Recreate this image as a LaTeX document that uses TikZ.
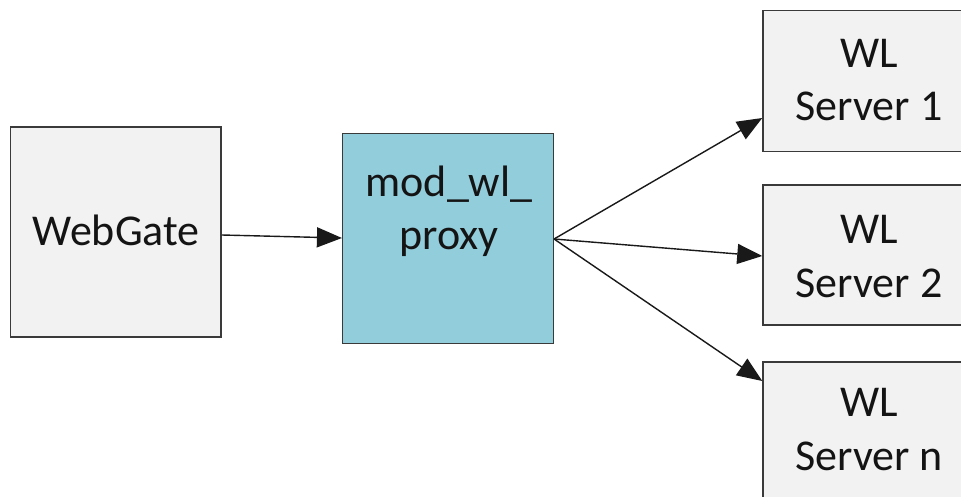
\documentclass[tikz,border=0pt]{standalone}
\usepackage{fontspec}
\setmainfont{Carlito}
\usetikzlibrary{arrows.meta}
\definecolor{boxgray}{HTML}{F2F2F2}
\definecolor{boxblue}{HTML}{92CDDC}
\definecolor{edgegray}{HTML}{3A3A3A}
\definecolor{txt}{HTML}{141414}
\tikzset{
  box/.style={draw=edgegray, line width=1.5pt, rectangle, inner sep=0pt, fill=boxgray},
  lbl/.style={font=\fontsize{44}{53.7}\selectfont, text=txt, align=center, inner sep=0pt, anchor=base},
  conn/.style={line width=1.4pt, draw=black!90, -{Triangle[length=25pt,width=20pt]}}
}
\begin{document}
\begin{tikzpicture}[x=1pt,y=-1pt]
\clip (0,0) rectangle (961,497);
\useasboundingbox (0,0) rectangle (961,497);
\node[box, minimum width=210.5pt, minimum height=210pt] (wg) at (115.75,232) {};
\node[box, fill=boxblue, minimum width=210.6pt, minimum height=210pt] (mp) at (448,238.3) {};
\node[box, minimum width=210pt, minimum height=141pt] (s1) at (868,81.2) {};
\node[box, minimum width=210pt, minimum height=140pt] (s2) at (868,255) {};
\node[box, minimum width=210pt, minimum height=140pt] (sn) at (868,432) {};
\node[lbl] (twg) at (116,245) {WebGate};
\node[lbl] (tmp) at (449,250) {mod\_wl\_\\proxy};
\node[lbl] (ts1) at (869,121) {WL\\Server 1};
\node[lbl] (ts2) at (869,297) {WL\\Server 2};
\node[lbl] (tsn) at (869,470) {WL\\Server n};
\coordinate (wgout) at (wg.east |- 0,235);
\coordinate (mpout) at (mp.east |- 0,239);
\coordinate (in1) at (s1.west |- 0,118);
\coordinate (in2) at (s2.west |- 0,256);
\coordinate (inn) at (sn.west |- 0,381);
\coordinate (mpin) at (mp.west |- 0,238);
\draw[conn] (wgout) -- (mpin);
\draw[conn] (mpout) -- (in1);
\draw[conn] (mpout) -- (in2);
\draw[conn] (mpout) -- (inn);
\end{tikzpicture}
\end{document}
